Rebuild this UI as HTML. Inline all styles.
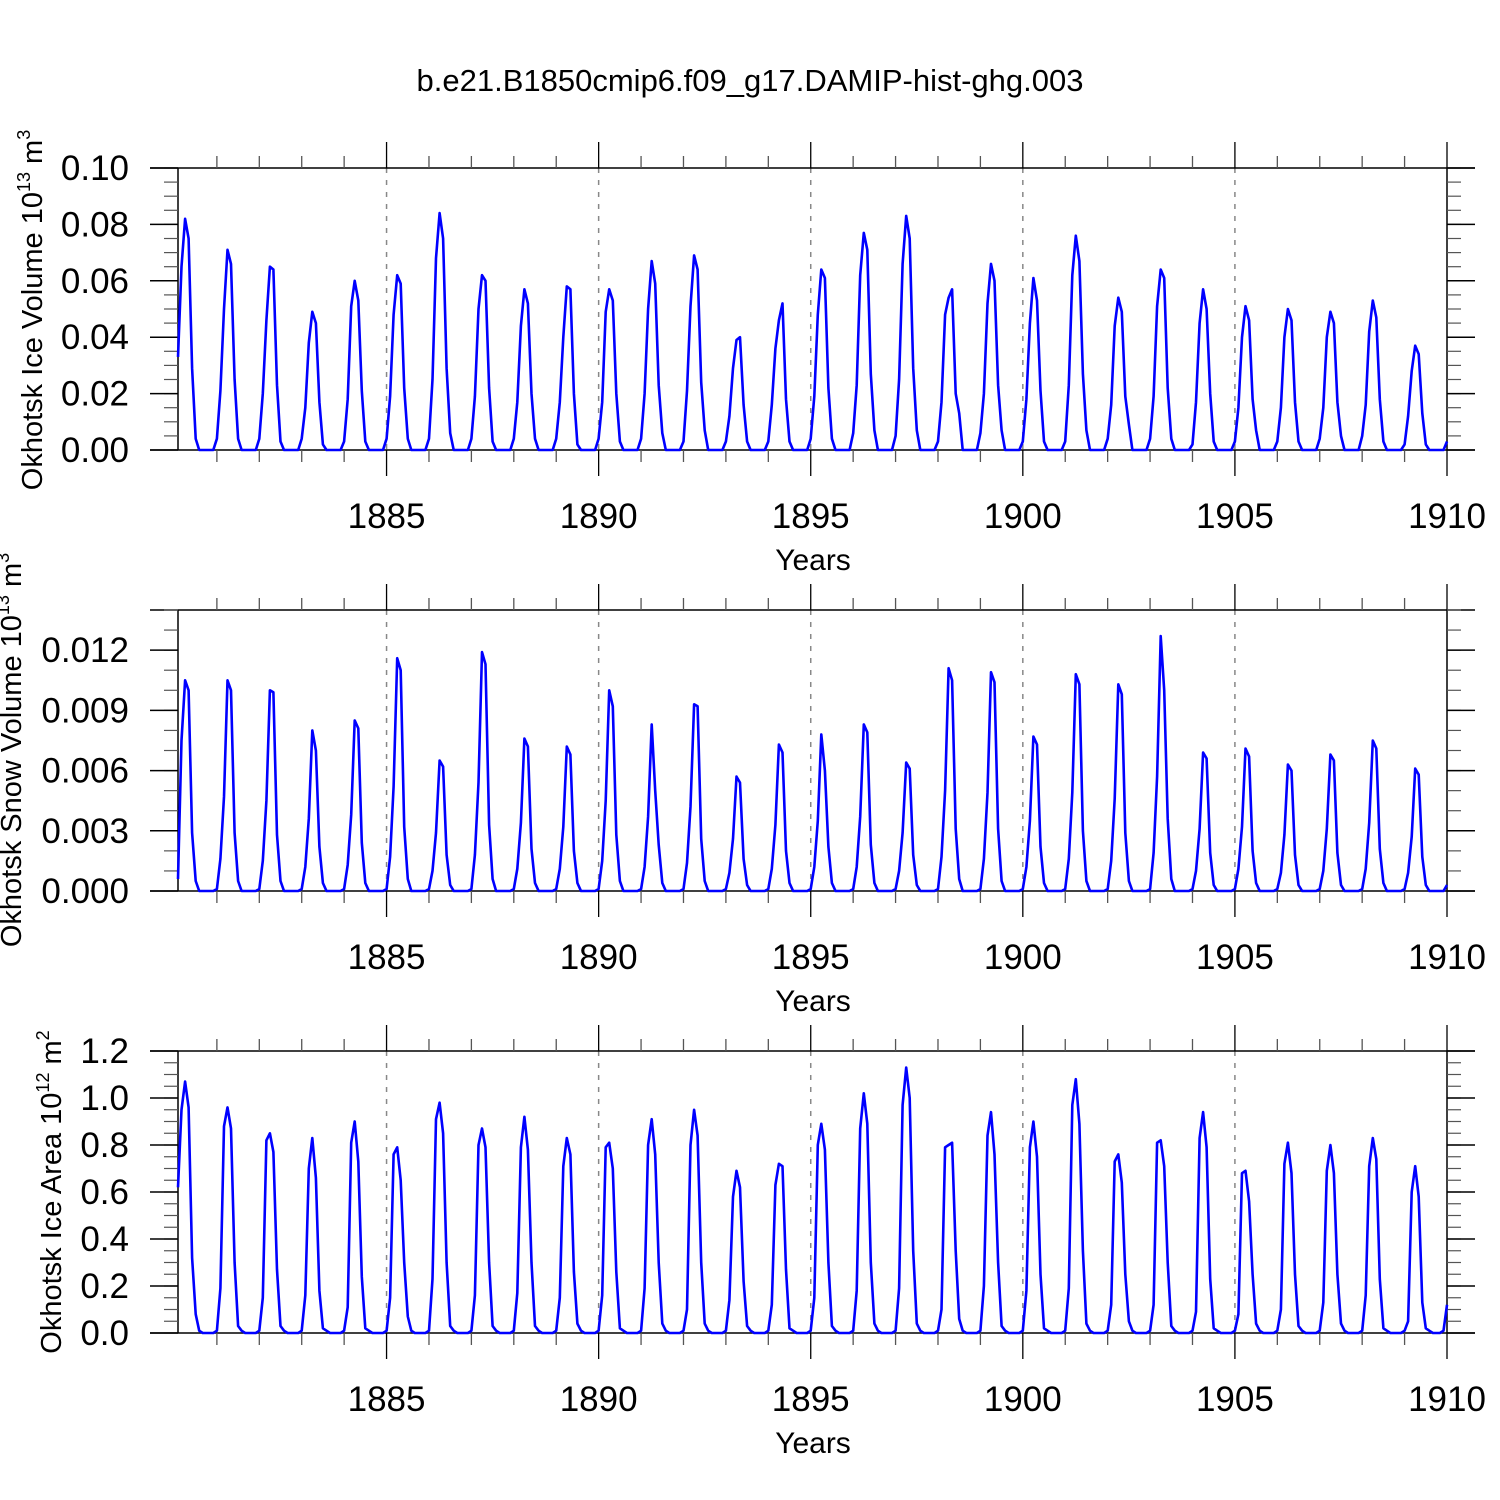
<!DOCTYPE html>
<html><head><meta charset="utf-8"><style>
html,body{margin:0;padding:0;background:#fff;}
svg{display:block;font-family:"Liberation Sans",sans-serif;}
</style></head><body>
<svg id="chart" width="1500" height="1500" viewBox="0 0 1500 1500" xmlns="http://www.w3.org/2000/svg">
<rect width="1500" height="1500" fill="#fff"/>
<text x="750" y="91" font-size="31" text-anchor="middle">b.e21.B1850cmip6.f09_g17.DAMIP-hist-ghg.003</text>
</svg>
<script>
// Okhotsk ice volume (units 1e-3 x 1e13 m^3), monthly
const iceVolume = [
33,65,82,75,29,4,0,0,0,0,0,4,21, 50,71,66,25,4,0,0,0,0,0,4,20, 46,65,64,23,3,0,0,0,0,0,4,15,
38,49,45,17,2,0,0,0,0,0,3,18, 51,60,53,21,3,0,0,0,0,0,4,19, 48,62,59,22,4,0,0,0,0,0,4,25,
68,84,75,29,6,0,0,0,0,0,4,19, 50,62,60,22,3,0,0,0,0,0,4,17, 44,57,52,20,4,0,0,0,0,0,4,17,
40,58,57,20,2,0,0,0,0,0,4,17, 49,57,53,20,3,0,0,0,0,0,4,20, 50,67,59,23,6,0,0,0,0,0,3,21,
51,69,64,24,7,0,0,0,0,0,3,12, 29,39,40,16,3,0,0,0,0,0,3,16, 36,46,52,18,3,0,0,0,0,0,4,19,
48,64,61,22,4,0,0,0,0,0,6,23, 62,77,71,27,7,0,0,0,0,0,5,25, 66,83,75,29,7,0,0,0,0,0,3,17,
48,54,57,20,13,0,0,0,0,0,6,20, 52,66,60,23,7,0,0,0,0,0,3,18, 45,61,53,21,3,0,0,0,0,0,3,23,
62,76,67,27,7,0,0,0,0,0,4,16, 44,54,49,19,9,0,0,0,0,0,4,19, 51,64,61,22,4,0,0,0,0,0,2,17,
45,57,50,20,3,0,0,0,0,0,3,15, 40,51,46,18,7,0,0,0,0,0,3,15, 40,50,46,17,3,0,0,0,0,0,4,15,
40,49,45,17,5,0,0,0,0,0,5,16, 42,53,47,18,3,0,0,0,0,0,2,12, 28,37,34,13,2,0,0,0,0,0,3];
// Okhotsk snow volume (units 1e-4 x 1e13 m^3)
const snowVolume = [
6,75,105,100,29,5,0,0,0,0,0,1,16, 47,105,100,29,5,0,0,0,0,0,1,15, 45,100,99,28,5,0,0,0,0,0,1,12,
36,80,70,22,4,0,0,0,0,0,1,13, 38,85,81,24,4,0,0,0,0,0,1,17, 52,116,110,32,6,0,0,0,0,0,1,10,
29,65,62,18,3,0,0,0,0,0,1,18, 54,119,113,33,6,0,0,0,0,0,1,11, 34,76,72,21,4,0,0,0,0,0,1,11,
32,72,68,20,4,0,0,0,0,0,1,15, 45,100,92,28,5,0,0,0,0,0,1,12, 37,83,50,23,4,0,0,0,0,0,1,14,
42,93,92,26,5,0,0,0,0,0,1,9, 26,57,54,16,3,0,0,0,0,0,1,11, 33,73,69,20,4,0,0,0,0,0,1,12,
35,78,60,22,4,0,0,0,0,0,1,12, 37,83,79,23,4,0,0,0,0,0,1,10, 29,64,61,18,3,0,0,0,0,0,1,17,
50,111,105,31,6,0,0,0,0,0,1,16, 49,109,104,31,5,0,0,0,0,0,1,12, 35,77,73,22,4,0,0,0,0,0,1,16,
49,108,103,30,5,0,0,0,0,0,1,15, 46,103,98,29,5,0,0,0,0,0,1,19, 57,127,100,36,6,0,0,0,0,0,1,10,
31,69,66,19,3,0,0,0,0,0,1,11, 32,71,67,20,4,0,0,0,0,0,1,9, 28,63,60,18,3,0,0,0,0,0,1,10,
31,68,65,19,3,0,0,0,0,0,1,11, 34,75,71,21,4,0,0,0,0,0,1,9, 27,61,58,17,3,0,0,0,0,0,3];
// Okhotsk ice area (units 0.01 x 1e12 m^2)
const iceArea = [
62,95,107,96,32,8,1,0,0,0,0,1,19, 88,96,87,30,3,1,0,0,0,0,1,15, 82,85,77,27,3,1,0,0,0,0,1,16,
70,83,66,18,2,1,0,0,0,0,1,11, 81,90,73,24,2,1,0,0,0,0,1,15, 76,79,65,30,7,1,0,0,0,0,1,23,
91,98,85,30,3,1,0,0,0,0,1,16, 80,87,79,30,3,1,0,0,0,0,1,17, 79,92,78,30,3,1,0,0,0,0,1,15,
71,83,76,26,4,1,0,0,0,0,1,16, 79,81,70,26,2,1,0,0,0,0,1,19, 80,91,76,30,4,1,0,0,0,0,1,10,
80,95,84,30,4,1,0,0,0,0,1,14, 58,69,62,22,3,1,0,0,0,0,1,12, 63,72,71,27,2,1,0,0,0,0,1,15,
80,89,78,30,3,1,0,0,0,0,1,18, 87,102,89,30,4,1,0,0,0,0,1,19, 97,113,100,35,4,1,0,0,0,0,1,10,
79,80,81,35,6,1,0,0,0,0,1,20, 84,94,76,30,3,1,0,0,0,0,1,18, 79,90,75,25,2,1,0,0,0,0,1,19,
97,108,89,35,4,1,0,0,0,0,1,12, 73,76,64,25,5,1,0,0,0,0,1,12, 81,82,71,30,3,1,0,0,0,0,1,9,
83,94,79,23,2,1,0,0,0,0,1,8, 68,69,56,25,4,1,0,0,0,0,1,10, 72,81,68,25,3,1,0,0,0,0,1,13,
69,80,68,25,4,1,0,0,0,0,1,16, 71,83,74,23,2,1,0,0,0,0,1,5, 60,71,58,13,2,1,0,0,0,1,12];
const xTickLabels = ["1885","1890","1895","1900","1905","1910"];
const xTickYears = [1885,1890,1895,1900,1905,1910];
const p1Ticks = ["0.00","0.02","0.04","0.06","0.08","0.10"];
const p2Ticks = ["0.000","0.003","0.006","0.009","0.012"];
const p3Ticks = ["0.0","0.2","0.4","0.6","0.8","1.0","1.2"];

const NS="http://www.w3.org/2000/svg";
const svg=document.getElementById('chart');
function mk(tag,attrs,parent){const e=document.createElementNS(NS,tag);for(const k in attrs)e.setAttribute(k,attrs[k]);(parent||svg).appendChild(e);return e;}
const X0=178,X1=1447,T0=1880+1/12,T1=1910;
const xs=t=>X0+(t-T0)/(T1-T0)*(X1-X0);

function panel(cfg){
  const g=mk('g',{});
  
  
  const ys=v=>cfg.bot-(v-cfg.ymin)/(cfg.ymax-cfg.ymin)*(cfg.bot-cfg.top);
  xTickYears.forEach(yr=>{ if(yr<1910){const l=mk('line',{x1:xs(yr),x2:xs(yr),y1:cfg.top,y2:cfg.bot,stroke:'#888','stroke-width':1.5,'stroke-dasharray':'5,7'},g);
    
    }});
  const st={stroke:'#000','stroke-width':1.5};
  mk('line',Object.assign({x1:150,x2:1475,y1:cfg.top,y2:cfg.top},st),g);
  mk('line',Object.assign({x1:150,x2:1475,y1:cfg.bot,y2:cfg.bot},st),g);
  mk('line',Object.assign({x1:X0,x2:X0,y1:cfg.top,y2:cfg.bot},st),g);
  mk('line',Object.assign({x1:X1,x2:X1,y1:cfg.top,y2:cfg.bot},st),g);
  for(let yr=1881;yr<=1910;yr++){
    const major=yr%5===0, len=major?26:12, x=xs(yr);
    mk('line',{x1:x,x2:x,y1:cfg.top,y2:cfg.top-len,stroke:major?'#000':'#555','stroke-width':1.3},g);
    mk('line',{x1:x,x2:x,y1:cfg.bot,y2:cfg.bot+len,stroke:major?'#000':'#555','stroke-width':1.3},g);
  }
  xTickLabels.forEach((lab,i)=>{const t=mk('text',{x:xs(xTickYears[i]),y:cfg.bot+78,'font-size':35,'text-anchor':'middle'},g);t.textContent=lab;
    
    });
  const xt=mk('text',{x:813,y:cfg.bot+120,'font-size':30,'text-anchor':'middle'},g);xt.textContent='Years';
  
  
  for(let v=cfg.ymin;v<=cfg.ymax+1e-9;v+=cfg.minor){const y=ys(v);
    mk('line',{x1:X0-14,x2:X0,y1:y,y2:y,stroke:'#555','stroke-width':1.2},g);
    mk('line',{x1:X1,x2:X1+14,y1:y,y2:y,stroke:'#555','stroke-width':1.2},g);}
  cfg.ticks.forEach((lab,i)=>{const v=cfg.ymin+i*cfg.major,y=ys(v);
    mk('line',{x1:150,x2:X0,y1:y,y2:y,stroke:'#000','stroke-width':1.5},g);
    mk('line',{x1:X1,x2:1475,y1:y,y2:y,stroke:'#000','stroke-width':1.5},g);
    const t=mk('text',{x:129,y:y+12,'font-size':35,'text-anchor':'end'},g);t.textContent=lab;
    
    });
  const yt=mk('text',{transform:`translate(${cfg.titleX},${cfg.titleY}) rotate(-90)`,'font-size':29,'text-anchor':'middle'},g);
  
  
  yt.innerHTML=cfg.title;
  const pts=cfg.data.map((v,i)=>xs(T0+i/12).toFixed(1)+','+ys(v*cfg.scale).toFixed(1)).join(' ');
  const pl=mk('polyline',{points:pts,fill:'none',stroke:'#0000ff','stroke-width':2.6,'stroke-linejoin':'round'},g);
  
  
}
panel({name:'ice-volume-panel',seriesName:'ice-volume-line',top:168,bot:450,ymin:0,ymax:0.10,major:0.02,minor:0.005,ticks:p1Ticks,data:iceVolume,scale:0.001,titleX:42,titleY:310,
  title:'Okhotsk Ice Volume 10<tspan font-size="18" dy="-12">13</tspan><tspan dy="12"> m</tspan><tspan font-size="18" dy="-12">3</tspan>'});
panel({name:'snow-volume-panel',seriesName:'snow-volume-line',top:610,bot:891,ymin:0,ymax:0.014,major:0.003,minor:0.001,ticks:p2Ticks,data:snowVolume,scale:0.0001,titleX:21,titleY:750,
  title:'Okhotsk Snow Volume 10<tspan font-size="18" dy="-12">13</tspan><tspan dy="12"> m</tspan><tspan font-size="18" dy="-12">3</tspan>'});
panel({name:'ice-area-panel',seriesName:'ice-area-line',top:1051,bot:1333,ymin:0,ymax:1.2,major:0.2,minor:0.05,ticks:p3Ticks,data:iceArea,scale:0.01,titleX:61,titleY:1192,
  title:'Okhotsk Ice Area 10<tspan font-size="18" dy="-12">12</tspan><tspan dy="12"> m</tspan><tspan font-size="18" dy="-12">2</tspan>'});
</script>
</body></html>
